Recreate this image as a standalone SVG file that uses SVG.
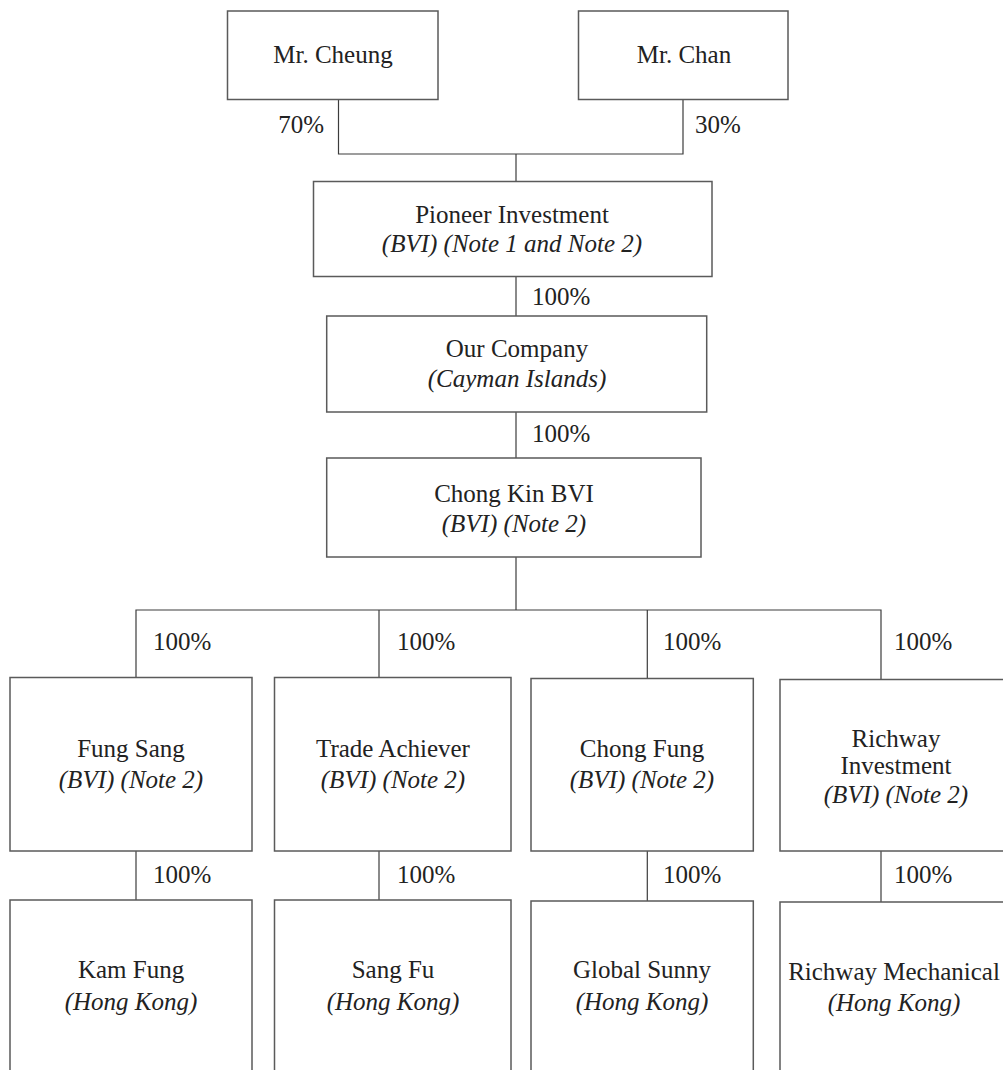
<svg xmlns="http://www.w3.org/2000/svg" width="1003" height="1070" viewBox="0 0 1003 1070">
<style>
.box{fill:#ffffff;stroke:#5a5a5a;stroke-width:1.5}
.ln{fill:none;stroke:#3c3c3c;stroke-width:1.2}
text{font-family:"Liberation Serif","Times New Roman",serif;font-size:25px;fill:#222222}
.c{text-anchor:middle}
.i{font-style:italic}
</style>
<rect width="1003" height="1070" fill="#ffffff"/>
<g id="connectors">
<path class="ln" d="M338.5,99.5 V154 H683 V99.5"/>
<path class="ln" d="M516,154 V181.5"/>
<path class="ln" d="M516,276.5 V316"/>
<path class="ln" d="M516,412 V458"/>
<path class="ln" d="M516,557 V610"/>
<path class="ln" d="M136,678 V610 H881 V679"/>
<path class="ln" d="M379,610 V677.5"/>
<path class="ln" d="M647.3,610 V678.5"/>
<path class="ln" d="M136,851 V900"/>
<path class="ln" d="M379,851 V900"/>
<path class="ln" d="M647.3,851 V901"/>
<path class="ln" d="M881,851 V902"/>
<text x="324" y="133" text-anchor="end">70%</text>
<text x="695" y="133">30%</text>
<text x="532" y="305">100%</text>
<text x="532" y="442">100%</text>
<text x="153" y="650">100%</text>
<text x="397" y="650">100%</text>
<text x="663" y="650">100%</text>
<text x="894" y="650">100%</text>
<text x="153" y="883">100%</text>
<text x="397" y="883">100%</text>
<text x="663" y="883">100%</text>
<text x="894" y="883">100%</text>
</g>
<g id="mr-cheung">
<rect class="box" x="227.5" y="11" width="210.5" height="88.5"/>
<text class="c" x="333" y="63">Mr. Cheung</text>
</g>
<g id="mr-chan">
<rect class="box" x="578.5" y="11" width="209.5" height="88.5"/>
<text class="c" x="684" y="63">Mr. Chan</text>
</g>
<g id="pioneer">
<rect class="box" x="313.5" y="181.5" width="398.5" height="95"/>
<text class="c" x="512" y="223">Pioneer Investment</text>
<text class="c i" x="512" y="252">(BVI) (Note 1 and Note 2)</text>
</g>
<g id="our-company">
<rect class="box" x="326.7" y="316" width="380" height="96"/>
<text class="c" x="517" y="357">Our Company</text>
<text class="c i" x="517" y="387">(Cayman Islands)</text>
</g>
<g id="chong-kin">
<rect class="box" x="326.7" y="458" width="374.3" height="99"/>
<text class="c" x="514" y="502">Chong Kin BVI</text>
<text class="c i" x="514" y="532">(BVI) (Note 2)</text>
</g>
<g id="fung-sang">
<rect class="box" x="10" y="677.5" width="242" height="173.5"/>
<text class="c" x="131" y="757">Fung Sang</text>
<text class="c i" x="131" y="788">(BVI) (Note 2)</text>
</g>
<g id="trade-achiever">
<rect class="box" x="274.5" y="677.5" width="236.5" height="173.5"/>
<text class="c" x="393" y="757">Trade Achiever</text>
<text class="c i" x="393" y="788">(BVI) (Note 2)</text>
</g>
<g id="chong-fung">
<rect class="box" x="531" y="678.5" width="222.3" height="172.5"/>
<text class="c" x="642" y="757">Chong Fung</text>
<text class="c i" x="642" y="788">(BVI) (Note 2)</text>
</g>
<g id="richway-investment">
<rect class="box" x="780" y="679.5" width="231" height="171.5"/>
<text class="c" x="896" y="747">Richway</text>
<text class="c" x="896" y="774">Investment</text>
<text class="c i" x="896" y="803">(BVI) (Note 2)</text>
</g>
<g id="kam-fung">
<rect class="box" x="10" y="900" width="242" height="185"/>
<text class="c" x="131" y="978">Kam Fung</text>
<text class="c i" x="131" y="1010">(Hong Kong)</text>
</g>
<g id="sang-fu">
<rect class="box" x="274.5" y="900" width="236.5" height="185"/>
<text class="c" x="393" y="978">Sang Fu</text>
<text class="c i" x="393" y="1010">(Hong Kong)</text>
</g>
<g id="global-sunny">
<rect class="box" x="531" y="901" width="222.3" height="185"/>
<text class="c" x="642" y="978">Global Sunny</text>
<text class="c i" x="642" y="1010">(Hong Kong)</text>
</g>
<g id="richway-mechanical">
<rect class="box" x="780" y="902" width="231" height="185"/>
<text class="c" x="894" y="980">Richway Mechanical</text>
<text class="c i" x="894" y="1011">(Hong Kong)</text>
</g>
</svg>
